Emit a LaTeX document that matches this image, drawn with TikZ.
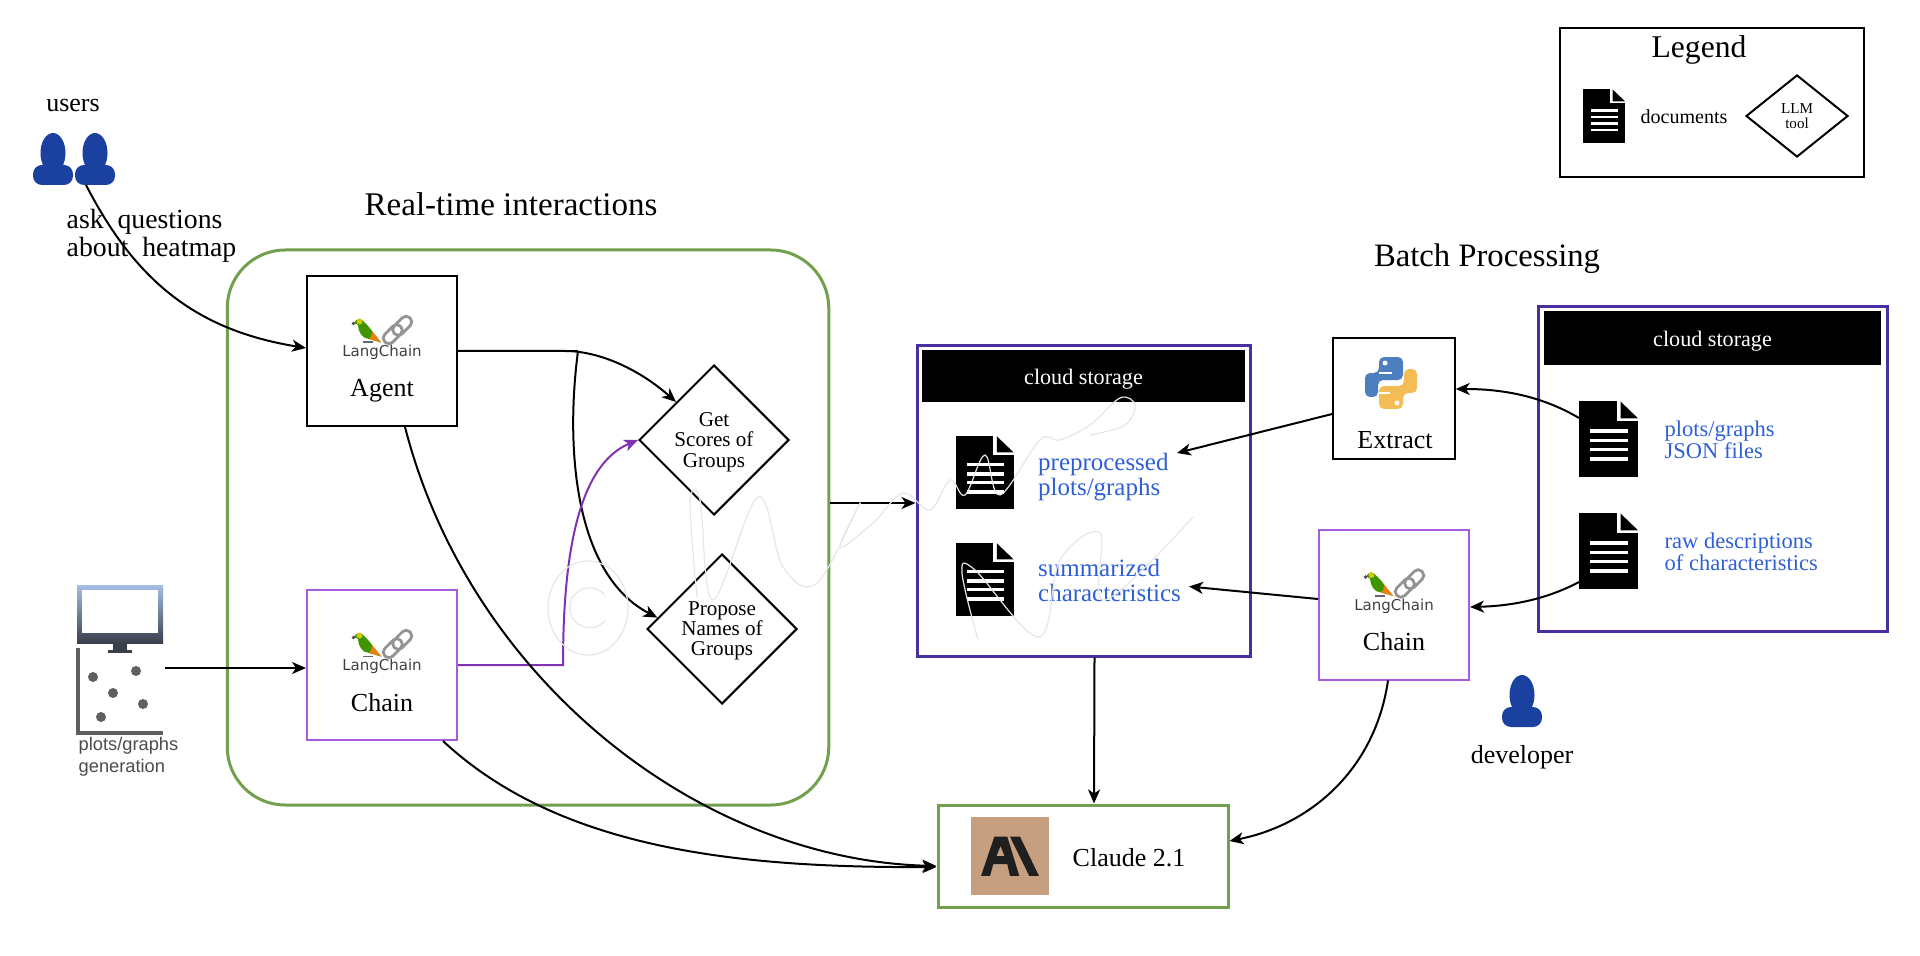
\documentclass[tikz,border=0pt]{standalone}
\usepackage{fontspec}
\setmainfont{Liberation Serif}
\newfontfamily\logofont{DejaVu Sans}
\newfontfamily\plotfont{Liberation Sans}
\usepackage{xcolor}
\usepackage{tikz}
\usetikzlibrary{shapes.geometric, arrows.meta, positioning, calc}
\definecolor{flowgreen}{HTML}{72A04F}
\definecolor{cloudpurple}{HTML}{4A2FA3}
\definecolor{chainpurple}{HTML}{A85BDD}
\definecolor{linkpurple}{HTML}{8033B0}
\definecolor{noteblue}{HTML}{2F5FD6}
\definecolor{personblue}{HTML}{1A41A0}
\definecolor{plotgray}{HTML}{5F5F5F}
\definecolor{screentop}{HTML}{A3BFEA}
\definecolor{screenbottom}{HTML}{3A3F4C}
\definecolor{pyblue}{HTML}{4B7FBF}
\definecolor{pyyellow}{HTML}{F4BC54}
\definecolor{claudetan}{HTML}{C69F80}
\definecolor{marklight}{HTML}{E6E6E6}
\tikzset{
    flow/.style={draw=black, line width=0.02cm, -{Stealth[length=0.14cm, width=0.12cm, inset=0.04cm]}},
    plainbox/.style={draw=black, line width=0.02cm, minimum width=1.5cm, minimum height=1.5cm},
    chainbox/.style={plainbox, draw=chainpurple},
    greenbox/.style={draw=flowgreen, line width=0.03cm},
    cloudbox/.style={draw=cloudpurple, line width=0.03cm},
    cloudhead/.style={fill=black, text=white, font=\fontsize{6.3}{7}\selectfont, inner sep=0pt, text height=0.2cm, text depth=0.03cm},
    toolbox/.style={diamond, draw=black, line width=0.02cm, inner sep=0pt, text depth=0pt, minimum width=1.5cm, minimum height=1.5cm, align=center, font=\fontsize{6}{5.7}\selectfont},
    boxlabel/.style={font=\fontsize{7.4}{8}\selectfont, inner sep=0pt, text height=0.18cm, text depth=0pt},
    title/.style={font=\fontsize{9.4}{11}\selectfont, inner sep=0pt, text height=0.22cm, text depth=0pt},
    note/.style={text=noteblue, align=left, anchor=west, inner sep=0pt, text depth=0pt, font=\fontsize{7.1}{7.1}\selectfont},
    smallnote/.style={note, font=\fontsize{6.4}{6.26}\selectfont},
    docicon/.style={fill=black, inner sep=0pt, outer sep=0pt, minimum width=0.59cm*#1, minimum height=0.76cm*#1},
    docmarks/.pic={
        \fill[white] (0.38,0.01) rectangle (0.60,-0.20);
        \fill[black] (0.417,-0.007) -- (0.59,-0.173) -- (0.417,-0.173) -- cycle;
        \foreach \ly in {0.30,0.395,0.485,0.58}
            \fill[white] (0.107,-\ly+0.017) rectangle (0.49,-\ly-0.017);
    },
    person/.pic={
        \fill[personblue] (0,0.32) ellipse (0.125 and 0.2);
        \fill[personblue] (-0.09,0.14) rectangle (0.09,0.26);
        \fill[personblue, rounded corners=0.09cm] (-0.2,0) rectangle (0.2,0.2);
    },
    langlogo/.pic={
        % parrot
        \fill[black!60] (-0.19,0.08) rectangle (-0.09,0.095);
        \fill[green!45!black!75!yellow] (-0.28,0.28) .. controls (-0.26,0.33) and (-0.20,0.33) .. (-0.17,0.28) .. controls (-0.12,0.24) and (-0.06,0.14) .. (-0.01,0.085) .. controls (-0.06,0.10) and (-0.10,0.11) .. (-0.13,0.12) .. controls (-0.20,0.12) and (-0.24,0.20) .. (-0.24,0.26) -- cycle;
        \fill[orange!70!brown] (-0.10,0.20) -- (-0.005,0.085) -- (-0.13,0.12) .. controls (-0.11,0.13) and (-0.10,0.16) .. cycle;
        \fill[yellow!60!olive] (-0.225,0.295) circle (0.03);
        \fill[black!70] (-0.285,0.275) circle (0.018);
        % chain
        \draw[gray!85, line width=0.028cm, rounded corners=0.05cm, rotate around={45:(0.202,0.252)}] (0.202-0.11,0.252-0.055) rectangle (0.202+0.11,0.252+0.055);
        \draw[gray!85, line width=0.028cm, rounded corners=0.05cm, rotate around={45:(0.108,0.168)}] (0.108-0.11,0.168-0.055) rectangle (0.108+0.11,0.168+0.055);
        \node[font=\logofont\fontsize{4.27}{5}\selectfont, text=black!75, inner sep=0pt] at (0,-0.015) {LangChain};
    },
    pythonlogo/.pic={
        \begin{scope}[x=0.01cm, y=0.01cm]
            \fill[pyblue, rounded corners=0.05cm] (-12,26) -- (12,26) -- (12,3) -- (-13,3) -- (-13,-14) -- (-26,-14) -- (-26,10) -- (-12,10) -- cycle;
            \fill[pyyellow, rounded corners=0.05cm] (12,-26) -- (-12,-26) -- (-12,-3) -- (13,-3) -- (13,14) -- (26,14) -- (26,-10) -- (12,-10) -- cycle;
            \fill[white] (-12.5,9) rectangle (1,11);
            \fill[white] (-12,-11) rectangle (-1,-9);
            \fill[white] (-6,20) circle (2.5);
            \fill[white] (6,-20) circle (2.5);
        \end{scope}
    },
    claudelogo/.pic={
        \begin{scope}[x=0.01cm, y=0.01cm]
            \fill[claudetan] (-39,-39) rectangle (39,39);
            \fill[black!88, even odd rule] (-15.7,19.3) -- (-2.7,19.3) -- (9.3,-20) -- (0,-20) -- (-2.7,-8) -- (-16.7,-8) -- (-20,-20) -- (-29,-20) -- cycle (-9.5,10) -- (-5.5,0) -- (-13.5,0) -- cycle;
            \fill[black!88] (0,19.3) -- (10,19.3) -- (29,-20) -- (19.3,-20) -- cycle;
        \end{scope}
    }
}

\begin{document}
\begin{tikzpicture}
    \useasboundingbox (0,0) rectangle (19.2,9.55);

    % Legend
    \node[draw=black, line width=0.02cm, minimum width=3.04cm, minimum height=1.49cm] (legend) at (17.12,8.525) {};
    \node[font=\fontsize{9}{10}\selectfont, inner sep=0pt, text height=0.2cm, text depth=0pt] (legendtitle) at (16.99,9.07) {Legend};
    \node[docicon=0.71] (legenddoc) at (16.04,8.39) {};
    \pic[scale=0.71] at (legenddoc.north west) {docmarks};
    \node[font=\fontsize{5.7}{6}\selectfont, inner sep=0pt] (legenddoctext) at (16.84,8.38) {documents};
    \node[toolbox, minimum width=1.02cm, minimum height=0.82cm, font=\fontsize{4.3}{4.3}\selectfont] (legendtool) at (17.97,8.39) {LLM\\tool};

    % Users
    \node[boxlabel] (users) at (0.73,8.52) {users};
    \pic at (0.53,7.70) {person};
    \pic at (0.95,7.70) {person};
    \coordinate (usersout) at (0.86,7.70);
    \node[font=\fontsize{7.9}{8}\selectfont, align=left, anchor=west, inner sep=0pt] (asktext) at (0.66,7.19) {ask\ \ questions\\about\ \ heatmap};

    % Plots and graphs
    \shade[top color=screentop, bottom color=screenbottom] (0.77,9.55-5.85) rectangle (1.63,9.55-6.43);
    \fill[white] (0.82,9.55-5.90) rectangle (1.58,9.55-6.33);
    \fill[screenbottom] (1.13,9.55-6.43) rectangle (1.27,9.55-6.50);
    \fill[screenbottom] (1.08,9.55-6.50) rectangle (1.32,9.55-6.53);
    \draw[plotgray, line width=0.035cm] (0.78,9.55-6.48) -- (0.78,9.55-7.33) -- (1.63,9.55-7.33);
    \foreach \dotx/\doty in {0.93/6.77, 1.36/6.71, 1.13/6.93, 1.43/7.04, 1.01/7.17}
        \fill[plotgray] (\dotx,9.55-\doty) circle (0.05);
    \coordinate (plotsout) at (1.65,2.87);
    \node[font=\plotfont\fontsize{5.2}{6.26}\selectfont, text=black!70, align=left, anchor=west, inner sep=0pt] (plotstext) at (0.78,1.98) {plots/graphs\\generation};

    % Real-time interactions
    \node[title] (realtimetitle) at (5.11,7.50) {Real-time interactions};
    \node[greenbox, minimum width=6.015cm, minimum height=5.55cm, rounded corners=0.58cm] (realtime) at (5.28,4.275) {};

    \node[plainbox] (agent) at (3.82,6.04) {};
    \pic at (agent.center) {langlogo};
    \node[boxlabel] (agentlabel) at ([yshift=-0.37cm]agent.center) {Agent};

    \node[chainbox] (chain) at (3.82,2.90) {};
    \pic at (chain.center) {langlogo};
    \node[boxlabel] (chainlabel) at ([yshift=-0.37cm]chain.center) {Chain};

    \node[toolbox] (getscores) at (7.14,5.15) {Get\\Scores of\\Groups};
    \node[toolbox] (propose) at (7.22,3.26) {Propose\\Names of\\Groups};
    \coordinate (agentsplit) at (5.78,6.04);

    % Cloud storage, middle
    \node[cloudbox, minimum width=3.33cm, minimum height=3.10cm] (cloud) at (10.835,4.54) {};
    \node[cloudhead, minimum width=3.225cm, minimum height=0.52cm] (cloudtitle) at (10.835,5.79) {cloud storage};
    \node[docicon=0.97] (prepdoc) at (9.85,4.825) {};
    \pic[scale=0.97] at (prepdoc.north west) {docmarks};
    \node[docicon=0.97] (summdoc) at (9.85,3.755) {};
    \pic[scale=0.97] at (summdoc.north west) {docmarks};
    \node[note] (prepnote) at (10.375,4.81) {preprocessed\\plots/graphs};
    \node[note] (summnote) at (10.375,3.745) {summarized\\characteristics};
    \coordinate (prepin) at (11.77,5.02);
    \coordinate (summin) at (11.89,3.685);

    % Batch processing
    \node[title, font=\fontsize{9.3}{11}\selectfont] (batchtitle) at (14.87,6.99) {Batch Processing};
    \node[plainbox, minimum width=1.215cm, minimum height=1.205cm] (extract) at (13.94,5.565) {};
    \pic at (13.91,5.72) {pythonlogo};
    \node[boxlabel] (extractlabel) at (13.95,5.15) {Extract};

    \node[chainbox] (chaintwo) at (13.94,3.505) {};
    \pic at (chaintwo.center) {langlogo};
    \node[boxlabel] (chaintwolabel) at ([yshift=-0.37cm]chaintwo.center) {Chain};

    \pic at (15.22,2.28) {person};
    \node[boxlabel] (developer) at (15.22,2.01) {developer};

    % Cloud storage, right
    \node[cloudbox, minimum width=3.49cm, minimum height=3.24cm] (cloudtwo) at (17.125,4.86) {};
    \node[cloudhead, minimum width=3.37cm, minimum height=0.54cm] (cloudtwotitle) at (17.125,6.17) {cloud storage};
    \node[docicon=1] (jsondoc) at (16.085,5.16) {};
    \pic at (jsondoc.north west) {docmarks};
    \node[docicon=1] (rawdoc) at (16.085,4.04) {};
    \pic at (rawdoc.north west) {docmarks};
    \node[smallnote] (jsonnote) at (16.64,5.15) {plots/graphs\\JSON files};
    \node[smallnote] (rawnote) at (16.64,4.03) {raw descriptions\\of characteristics};

    % Claude
    \node[greenbox, minimum width=2.90cm, minimum height=1.02cm] (claude) at (10.83,0.99) {};
    \pic at (10.10,0.99) {claudelogo};
    \node[boxlabel] (claudelabel) at (11.29,0.98) {Claude 2.1};

    % Connectors
    \draw[flow] (usersout) .. controls (1.35,6.75) and (1.95,6.25) .. ([yshift=0.03cm]agent.west);
    \draw[flow] (plotsout) -- ([yshift=-0.03cm]chain.west);
    \draw[line width=0.02cm] (agent.east) -- (agentsplit);
    \draw[flow] (agent.east) -- (5.65,6.04) .. controls (6.00,6.04) and (6.40,5.85) .. (getscores.north west);
    \draw[flow] (agentsplit) .. controls (5.65,5.05) and (5.75,3.80) .. (propose.170);
    \draw[flow, draw=linkpurple] (chain.east) -- (5.63,2.90) .. controls (5.63,4.00) and (5.78,4.90) .. (getscores.west);
    \draw[flow] ([xshift=0.23cm]agent.south) .. controls (4.70,2.75) and (7.00,0.95) .. ([yshift=-0.10cm]claude.west);
    \draw[flow] ([xshift=0.61cm]chain.south) .. controls (5.60,1.05) and (7.40,0.87) .. ([yshift=-0.11cm]claude.west);
    \draw[flow] ([yshift=-0.02cm]realtime.east |- cloud.west) -- ([yshift=-0.02cm]cloud.west);
    \draw[flow] ([xshift=0.11cm]cloud.south) -- ([xshift=0.11cm]claude.north);
    \draw[flow] ([yshift=-0.155cm]extract.west) -- (prepin);
    \draw[flow] ([yshift=0.055cm]chaintwo.west) -- (summin);
    \draw[flow] ([yshift=0.21cm]jsondoc.west) .. controls (15.40,5.60) and (15.00,5.66) .. ([yshift=0.095cm]extract.east);
    \draw[flow] ([yshift=-0.31cm]rawdoc.west) .. controls (15.45,3.55) and (15.10,3.49) .. ([yshift=-0.025cm]chaintwo.east);
    \draw[flow] ([xshift=-0.06cm]chaintwo.south) .. controls (13.75,1.85) and (13.10,1.30) .. ([yshift=0.15cm]claude.east);

    % Faint handwriting across the middle
    \begin{scope}[draw=marklight, line width=0.012cm]
        \draw (5.88,3.47) ellipse (0.40 and 0.47);
        \draw (6.05,3.60) arc (40:320:0.20);
        \draw plot[smooth, tension=0.6] coordinates {(6.97,3.58) (6.90,4.52) (7.00,4.55) (7.13,3.55) (7.58,4.58) (7.83,3.88) (8.17,3.72) (8.60,4.52) (8.40,4.08) (8.73,4.32) (9.03,4.62) (9.30,4.45) (9.50,4.75) (9.65,4.60) (9.85,5.00) (10.00,4.60) (10.40,5.15) (10.60,5.15) (10.90,5.30) (11.20,5.57) (11.35,5.50) (11.25,5.30) (10.90,5.20)};
        \draw plot[smooth, tension=0.6] coordinates {(9.78,3.15) (9.62,3.82) (9.75,3.85) (10.39,3.18) (10.60,3.95) (11.00,4.22) (11.05,3.55) (11.93,4.38)};
    \end{scope}
\end{tikzpicture}
\end{document}
